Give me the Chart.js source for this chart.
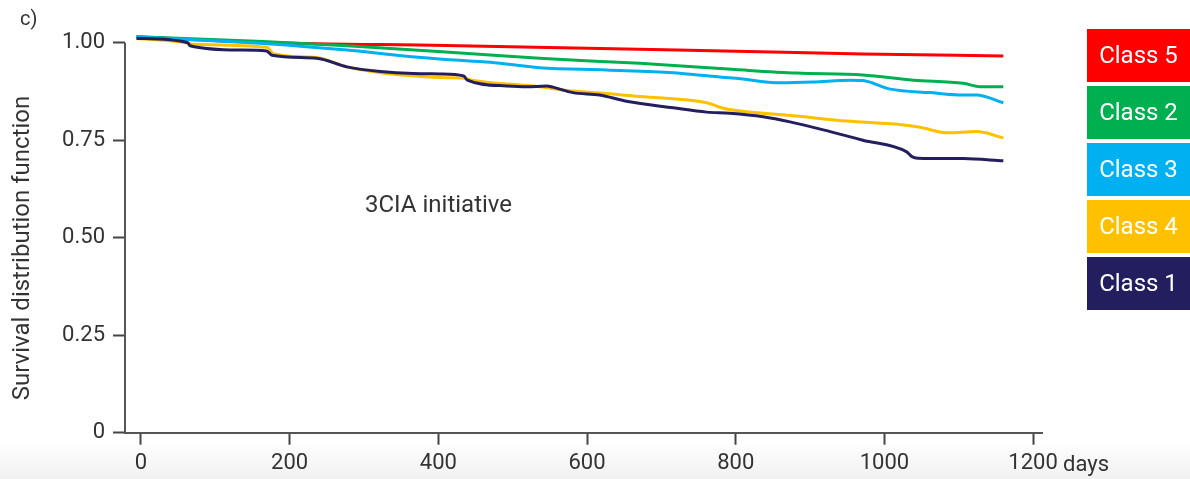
<!DOCTYPE html>
<html lang="en">
<head>
  <meta charset="UTF-8" />
  <title>Survival distribution - 3CIA initiative</title>
  <script src="https://cdn.jsdelivr.net/npm/chart.js"></script>
  <style>
    html, body { margin: 0; padding: 0; }
    body {
      width: 1190px; height: 479px; overflow: hidden;
      background: linear-gradient(to bottom, #fff 0px, #fff 440px, #f1f1f1 479px);
      font-family: Roboto, "Noto Sans", sans-serif;
    }
    #wrap { position: relative; width: 1190px; height: 479px; }
    #legend {
      position: absolute; left: 1087px; top: 29px; width: 103px;
      display: flex; flex-direction: column; gap: 4px;
    }
    #legend div {
      height: 53px; line-height: 53px; text-align: center;
      color: #fff; font-size: 24px;
    }
  </style>
</head>
<body>
  <div id="wrap">
    <canvas id="chart" width="1190" height="479"></canvas>
    <div id="legend"></div>
  </div>

  <script>
    // legend order = top to bottom in the picture
    const classNames = ['Class 5', 'Class 2', 'Class 3', 'Class 4', 'Class 1'];
    const classColors = ['#ff0000', '#00b050', '#00b0f0', '#ffc000', '#231f5f'];

    // days / survival values
    const class5Days = [-6, 175, 410, 800, 971, 1160];
    const class5Surv = [1.015, 1.000, 0.993, 0.978, 0.971, 0.966];

    const class2Days = [-6, 164, 277, 410, 536, 671, 800, 882, 971, 1039, 1106, 1129, 1160];
    const class2Surv = [1.015, 1.003, 0.992, 0.976, 0.960, 0.947, 0.931, 0.922, 0.917, 0.904, 0.896, 0.887, 0.887];

    const class3Days = [-6, 164, 277, 344, 410, 470, 536, 626, 716, 761, 800, 860, 904, 954, 971, 1008, 1061, 1106, 1124, 1160];
    const class3Surv = [1.015, 0.998, 0.981, 0.968, 0.957, 0.950, 0.936, 0.930, 0.923, 0.915, 0.909, 0.897, 0.899, 0.904, 0.903, 0.881, 0.872, 0.866, 0.866, 0.846];

    const class4Days = [-6, 60, 70, 170, 178, 236, 277, 322, 366, 410, 434, 445, 536, 563, 581, 626, 671, 761, 783, 806, 882, 949, 1017, 1048, 1084, 1124, 1160];
    const class4Surv = [1.011, 1.000, 0.996, 0.988, 0.972, 0.962, 0.938, 0.923, 0.915, 0.910, 0.909, 0.904, 0.887, 0.880, 0.876, 0.870, 0.862, 0.846, 0.832, 0.825, 0.812, 0.799, 0.791, 0.783, 0.769, 0.772, 0.756];

    const class1Days = [-6, 63, 66, 133, 169, 176, 236, 277, 322, 366, 403, 434, 439, 492, 519, 546, 554, 581, 617, 653, 716, 761, 792, 837, 873, 927, 971, 1030, 1037, 1045, 1106, 1160];
    const class1Surv = [1.011, 1.000, 0.992, 0.981, 0.979, 0.968, 0.960, 0.938, 0.926, 0.921, 0.920, 0.915, 0.904, 0.889, 0.887, 0.889, 0.886, 0.872, 0.866, 0.850, 0.833, 0.822, 0.819, 0.810, 0.797, 0.772, 0.750, 0.720, 0.708, 0.704, 0.703, 0.697];

    const seriesDays = [class5Days, class2Days, class3Days, class4Days, class1Days];
    const seriesSurv = [class5Surv, class2Surv, class3Surv, class4Surv, class1Surv];
    const drawOrder = [4, 3, 1, 2, 0]; // class 1 on top

    const xTickValues = [0, 200, 400, 600, 800, 1000, 1200];
    const yTickValues = [0, 0.25, 0.5, 0.75, 1];
    const yTickLabels = ['0', '0.25', '0.50', '0.75', '1.00'];

    // html legend boxes
    const legendEl = document.getElementById('legend');
    classNames.forEach((name, i) => {
      const d = document.createElement('div');
      d.style.background = classColors[i];
      d.textContent = name;
      legendEl.appendChild(d);
    });

    const datasets = classNames.map((name, i) => ({
      label: name,
      data: seriesDays[i].map((d, k) => ({ x: d, y: seriesSurv[i][k] })),
      borderColor: classColors[i],
      borderWidth: 3,
      pointRadius: 0,
      fill: false,
      cubicInterpolationMode: 'monotone',
      order: drawOrder[i]
    }));

    const textColor = '#333';

    // extra texts + y axis line that stops at 1.00
    const extrasPlugin = {
      id: 'extras',
      afterDraw(chart) {
        const c = chart.ctx;
        const xs = chart.scales.x, ys = chart.scales.y;
        c.save();
        c.strokeStyle = '#555';
        c.lineWidth = 2;
        c.beginPath();
        c.moveTo(chart.chartArea.left, ys.getPixelForValue(1));
        c.lineTo(chart.chartArea.left, ys.getPixelForValue(0) + 1);
        c.stroke();

        c.fillStyle = textColor;
        c.textBaseline = 'middle';
        c.font = '20px Roboto';
        c.textAlign = 'left';
        c.fillText('c)', 20, 20);

        c.font = '24px Roboto';
        c.fillText('3CIA initiative', 365, 206);

        c.font = '22px Roboto';
        c.fillText('days', xs.getPixelForValue(1200) + 30, 465);

        c.translate(23, 248);
        c.rotate(-Math.PI / 2);
        c.textAlign = 'center';
        c.font = '24px Roboto';
        c.fillText('Survival distribution function', 0, 0);
        c.restore();
      }
    };

    new Chart(document.getElementById('chart'), {
      type: 'line',
      data: { datasets },
      options: {
        responsive: false,
        animation: false,
        layout: { padding: { top: 31, right: 148, left: 0, bottom: 0 } },
        plugins: { legend: { display: false }, tooltip: { enabled: false } },
        scales: {
          x: {
            type: 'linear',
            min: -21.5,
            max: 1212,
            afterBuildTicks: s => { s.ticks = xTickValues.map(v => ({ value: v })); },
            afterFit: s => { s.height = 46.3; },
            grid: { drawOnChartArea: false, drawTicks: true, tickLength: 12, tickColor: '#444', tickWidth: 2 },
            border: { display: true, color: '#555', width: 2 },
            ticks: {
              color: textColor,
              font: { family: 'Roboto', size: 22 },
              padding: 6,
              maxRotation: 0,
              callback: (v) => String(v)
            }
          },
          y: {
            min: 0,
            max: 1.03,
            afterBuildTicks: s => { s.ticks = yTickValues.map(v => ({ value: v })); },
            afterFit: s => { s.width = 125; },
            grid: { drawOnChartArea: false, drawTicks: true, tickLength: 12, tickColor: '#444', tickWidth: 2 },
            border: { display: false },
            ticks: {
              color: textColor,
              font: { family: 'Roboto', size: 22 },
              padding: 8,
              callback: (v) => yTickLabels[yTickValues.indexOf(v)]
            }
          }
        }
      },
      plugins: [extrasPlugin]
    });
  </script>
</body>
</html>
